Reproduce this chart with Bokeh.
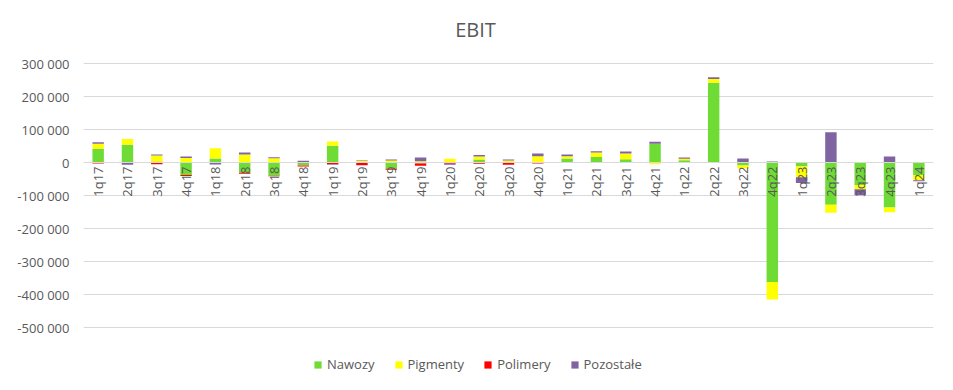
import math
from bokeh.plotting import figure
from bokeh.models import (ColumnDataSource, FactorRange, FixedTicker, CustomJSTickFormatter,
                          Span, Legend, LegendItem, Label, Range1d)
from bokeh.core.properties import value
from bokeh.embed import file_html
from bokeh.resources import INLINE

quarters = ["1q17", "2q17", "3q17", "4q17", "1q18", "2q18", "3q18", "4q18",
            "1q19", "2q19", "3q19", "4q19", "1q20", "2q20", "3q20", "4q20",
            "1q21", "2q21", "3q21", "4q21", "1q22", "2q22", "3q22", "4q22",
            "1q23", "2q23", "3q23", "4q23", "1q24"]
nawozy = [42000, 54000, 3000, -38000, 12000, -31000, -40000, -8000,
          51000, 2000, -19000, -3000, -1000, 9000, 2000, 2000,
          12000, 17000, 10000, 57000, 7000, 242000, -9000, -362000,
          -12000, -128000, -68000, -136000, -38000]
pigmenty = [15000, 17000, 18000, 14000, 31000, 24000, 13000, -1000,
            13000, 3000, 6000, 4000, 11000, 9000, 4000, 17000,
            7000, 13000, 17000, -5000, 4000, 11000, -9000, -53000,
            -33000, -24000, -13000, -15000, -16000]
polimery = [-3000, -1000, -5000, -3000, 0, -3000, -2000, -3000,
            -5000, -8000, -3000, -7000, -3000, -4000, -7000, -3000,
            -1000, 0, 0, 0, 0, 0, 0, 0,
            0, 0, 0, 0, 0]
pozostale = [4000, -6000, 3000, 4000, -6000, 6000, 3000, 5000,
             -2000, 2000, 3000, 11000, -3000, 5000, 3000, 8000,
             5000, 4000, 6000, 6000, 4000, 5000, 12000, 3000,
             -17000, 92000, -18000, 18000, -3000]
series_names = ["Nawozy", "Pigmenty", "Polimery", "Pozostałe"]
series_colors = ["#6FDB35", "#FFFF00", "#FF0000", "#8064A2"]
y_ticks = [-500000, -400000, -300000, -200000, -100000, 0, 100000, 200000, 300000]
chart_title = "EBIT"

series = [nawozy, pigmenty, polimery, pozostale]
data = {"q": quarters}
pos_keys, neg_keys = [], []
for i, s in enumerate(series):
    data[f"p{i}"] = [max(v, 0) for v in s]
    data[f"n{i}"] = [min(v, 0) for v in s]
    pos_keys.append(f"p{i}")
    neg_keys.append(f"n{i}")
data["zero"] = [0 for _ in quarters]
src = ColumnDataSource(data)

TXT = "#595959"
FONT = "Open Sans"

# layout: grid area 264 px tall, with 53 px of extra room above and below it
GRID_H = 264
PAD = 53
FRAME_H = GRID_H + 2 * PAD
upp = (y_ticks[-1] - y_ticks[0]) / GRID_H
y_lo = y_ticks[0] - PAD * upp
y_hi = y_ticks[-1] + PAD * upp

p = figure(x_range=FactorRange(*quarters), y_range=Range1d(y_lo, y_hi),
           frame_width=850, frame_height=FRAME_H, output_backend="svg",
           toolbar_location=None, min_border_left=83, min_border_right=12,
           min_border_top=10, min_border_bottom=0)
p.outline_line_color = None
p.background_fill_color = "white"

pos_r = p.vbar_stack(pos_keys, x="q", width=0.39, source=src, color=series_colors, line_width=0)
neg_r = p.vbar_stack(neg_keys, x="q", width=0.39, source=src, color=series_colors, line_width=0)

p.add_layout(Span(location=0, dimension="width", line_color="#D9D9D9", line_width=1))

p.text(x="q", y="zero", text="q", source=src, angle=math.pi / 2,
       text_align="right", text_baseline="middle", y_offset=4,
       text_font=value(FONT), text_font_size="13px", text_color=TXT)

p.xaxis.visible = False
p.xgrid.grid_line_color = None
p.ygrid.grid_line_color = "#D9D9D9"
p.yaxis.ticker = FixedTicker(ticks=y_ticks)
p.yaxis.formatter = CustomJSTickFormatter(
    code="return tick.toFixed(0).replace(/\\B(?=(\\d{3})+(?!\\d))/g, ' ');")
p.yaxis.axis_line_color = None
p.yaxis.major_tick_line_color = None
p.yaxis.minor_tick_line_color = None
p.yaxis.major_tick_out = 0
p.yaxis.major_label_standoff = 14
p.yaxis.major_label_text_font = FONT
p.yaxis.major_label_text_font_size = "13px"
p.yaxis.major_label_text_color = TXT

title = Label(x=392, y=FRAME_H - 19, x_units="screen", y_units="screen", text=chart_title,
              text_align="center", text_baseline="alphabetic", text_font=FONT,
              text_font_size="20px", text_color=TXT)
p.add_layout(title)

items = [LegendItem(label=n, renderers=[r]) for n, r in zip(series_names, pos_r)]
legend = Legend(items=items, orientation="horizontal", location=(230, PAD - 46),
                glyph_width=9, glyph_height=9, label_standoff=5, spacing=19,
                label_text_font=FONT, label_text_font_size="13px", label_text_color=TXT,
                border_line_color=None, background_fill_alpha=0, padding=0, margin=0)
p.add_layout(legend, "center")

open("out.html", "w").write(file_html(p, INLINE))
